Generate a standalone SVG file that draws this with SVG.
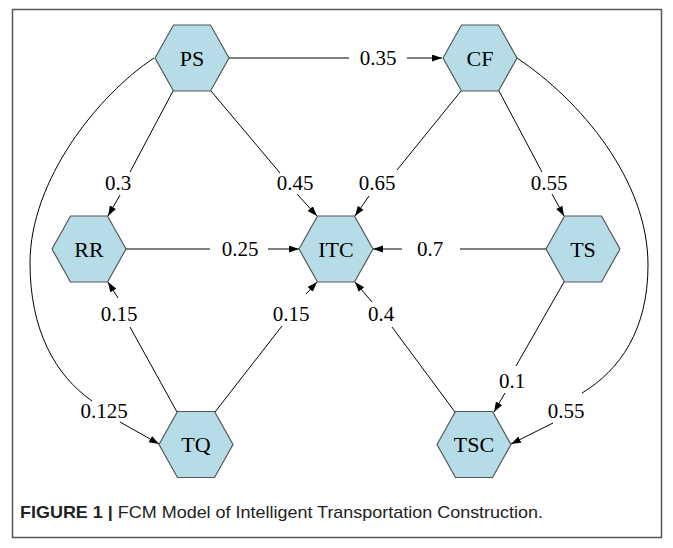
<svg xmlns="http://www.w3.org/2000/svg" xmlns:xlink="http://www.w3.org/1999/xlink" width="673" height="548" viewBox="0 0 673 548">
<style>
.hex{fill:#b6dde7;stroke:#555;stroke-width:1.2}
.nl{font-family:"Liberation Serif","Times New Roman",serif;font-size:22px;fill:#000;text-anchor:middle}
.el{font-family:"Liberation Serif","Times New Roman",serif;font-size:21px;fill:#000;text-anchor:middle}
.e{fill:none;stroke:#000;stroke-width:1}
.a{fill:none;stroke:#000;stroke-width:1;marker-end:url(#arr)}
.cap{font-family:"Liberation Sans",Arial,sans-serif;font-size:17px;fill:#222}
</style>
<defs>
<marker id="arr" markerUnits="userSpaceOnUse" markerWidth="11" markerHeight="8" refX="10" refY="3.5" orient="auto"><path d="M0,0 L10,3.5 L0,7 z" fill="#000"/></marker>
<polygon id="hexshape" points="-37,0 -18.5,-33 18.5,-33 37,0 18.5,33 -18.5,33"/>
</defs>
<rect x="0" y="0" width="673" height="548" fill="#fff"/>
<rect x="12.5" y="9.5" width="649" height="528" fill="none" stroke="#555" stroke-width="1.5"/>
<g id="connectors">
<line class="e" x1="229" y1="58" x2="349" y2="58"/><line class="a" x1="407" y1="58" x2="442" y2="58"/>
<line class="e" x1="173" y1="91" x2="130" y2="172"/><line class="a" x1="120" y1="195" x2="108" y2="216"/>
<line class="e" x1="211" y1="91" x2="280" y2="173"/><line class="a" x1="297" y1="194" x2="317" y2="216"/>
<line class="e" x1="461" y1="91" x2="397" y2="170"/><line class="a" x1="369" y1="196" x2="355" y2="216"/>
<line class="e" x1="499" y1="91" x2="542" y2="172"/><line class="a" x1="552" y1="194" x2="564" y2="216"/>
<line class="e" x1="126" y1="249" x2="210" y2="249"/><line class="a" x1="268" y1="249" x2="299" y2="249"/>
<line class="e" x1="546" y1="249" x2="460" y2="249"/><line class="a" x1="402" y1="249" x2="373" y2="249"/>
<line class="e" x1="177" y1="412" x2="130" y2="327"/><line class="a" x1="118" y1="298" x2="108" y2="282"/>
<line class="e" x1="215" y1="412" x2="282" y2="326"/><line class="a" x1="306" y1="294" x2="317" y2="282"/>
<line class="e" x1="455" y1="412" x2="392" y2="327"/><line class="a" x1="372" y1="302" x2="355" y2="282"/>
<line class="e" x1="564" y1="282" x2="516" y2="366"/><line class="a" x1="505" y1="393" x2="494" y2="412"/>
<path class="e" d="M154,58 C98,95 30,180 30,263 C30,330 55,375 92,401"/><line class="a" x1="120" y1="422" x2="159" y2="444"/>
<path class="e" d="M517,58 C580,100 648,180 648,265 C648,330 620,370 582,393"/><line class="a" x1="553" y1="423" x2="511" y2="444"/>
<text class="el" x="378" y="65">0.35</text>
<text class="el" x="118" y="190">0.3</text>
<text class="el" x="295" y="190">0.45</text>
<text class="el" x="377" y="190">0.65</text>
<text class="el" x="549" y="190">0.55</text>
<text class="el" x="240" y="256">0.25</text>
<text class="el" x="430" y="256">0.7</text>
<text class="el" x="119" y="321">0.15</text>
<text class="el" x="291" y="321">0.15</text>
<text class="el" x="381" y="321">0.4</text>
<text class="el" x="512" y="388">0.1</text>
<text class="el" x="104" y="418">0.125</text>
<text class="el" x="566" y="418">0.55</text>
</g>
<g id="PS"><use xlink:href="#hexshape" class="hex" transform="translate(192,58)"/><text class="nl" x="192" y="65.5">PS</text></g>
<g id="CF"><use xlink:href="#hexshape" class="hex" transform="translate(480,58)"/><text class="nl" x="480" y="65.5">CF</text></g>
<g id="RR"><use xlink:href="#hexshape" class="hex" transform="translate(89,249)"/><text class="nl" x="89" y="256.5">RR</text></g>
<g id="ITC"><use xlink:href="#hexshape" class="hex" transform="translate(336,249)"/><text class="nl" x="336" y="256.5">ITC</text></g>
<g id="TS"><use xlink:href="#hexshape" class="hex" transform="translate(583,249)"/><text class="nl" x="583" y="256.5">TS</text></g>
<g id="TQ"><use xlink:href="#hexshape" class="hex" transform="translate(196,444.5)"/><text class="nl" x="196" y="452">TQ</text></g>
<g id="TSC"><use xlink:href="#hexshape" class="hex" transform="translate(474,444.5)"/><text class="nl" x="474" y="452">TSC</text></g>
<text class="cap" x="20" y="518" textLength="523" lengthAdjust="spacingAndGlyphs"><tspan font-weight="bold">FIGURE 1 |</tspan> FCM Model of Intelligent Transportation Construction.</text>
</svg>
